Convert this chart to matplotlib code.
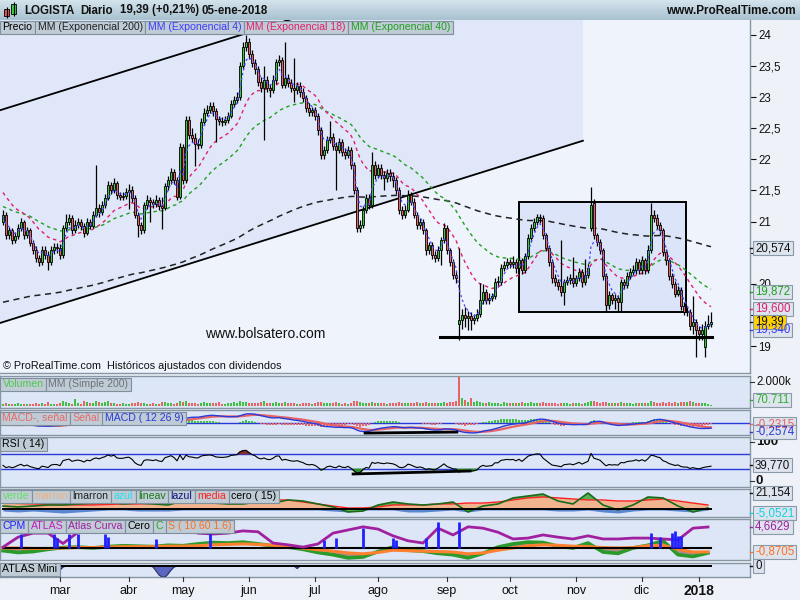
import numpy as np
import pandas as pd
import matplotlib
matplotlib.use('Agg')
import matplotlib.pyplot as plt
from matplotlib.patches import Rectangle, Polygon
from matplotlib.colors import LinearSegmentedColormap

plt.rcParams['font.family'] = ['Liberation Sans', 'DejaVu Sans']

# ---------------- data ----------------
holidays = ['2017-04-14', '2017-04-17', '2017-05-01', '2017-12-25', '2017-12-26', '2018-01-01']
dates = pd.bdate_range('2017-02-01', '2018-01-05')
dates = dates[~dates.isin(pd.to_datetime(holidays))]

opens = [21.00, 21.11, 20.78, 20.86, 20.70, 20.77, 20.90, 20.99, 20.78, 20.86,
         20.66, 20.54, 20.41, 20.35, 20.54, 20.46, 20.35, 20.54, 20.59, 20.58,
         20.46, 20.90, 20.99, 21.06, 20.86, 20.94, 20.99, 20.93, 20.82, 20.99,
         20.93, 21.11, 21.22, 21.15, 21.27, 21.38, 21.59, 21.51, 21.62, 21.43,
         21.40, 21.41, 21.48, 21.51, 21.38, 21.11, 20.94, 20.86, 21.27, 21.35,
         21.32, 21.28, 21.35, 21.25, 21.22, 21.57, 21.67, 21.80, 21.67, 21.40,
         22.20, 21.67, 22.63, 22.39, 22.35, 22.25, 22.23, 22.60, 22.75, 22.80,
         22.86, 22.78, 22.65, 22.62, 22.60, 22.64, 22.70, 22.89, 22.95, 23.00,
         23.50, 23.80, 23.88, 23.70, 23.55, 23.45, 23.25, 23.15, 23.28, 23.15,
         23.12, 23.28, 23.57, 23.60, 23.20, 23.31, 23.23, 23.15, 23.12, 23.18,
         23.08, 22.99, 22.83, 22.76, 22.79, 22.70, 22.47, 22.07, 22.15, 22.31,
         22.36, 22.22, 22.15, 22.28, 22.12, 22.07, 22.15, 21.91, 21.51, 20.90,
         20.94, 21.19, 21.38, 21.27, 21.91, 21.75, 21.86, 21.75, 21.70, 21.78,
         21.73, 21.67, 21.51, 21.19, 21.11, 21.19, 21.43, 21.32, 21.11, 20.94,
         20.99, 20.86, 20.54, 20.62, 20.46, 20.41, 20.54, 20.70, 20.90, 20.54,
         20.35, 20.14, 19.35, 19.42, 19.50, 19.45, 19.48, 19.42, 19.45, 19.51,
         19.74, 19.87, 19.74, 19.77, 19.80, 20.03, 20.03, 20.25, 20.30, 20.35,
         20.32, 20.35, 20.25, 20.38, 20.22, 20.45, 20.74, 20.90, 20.99, 21.07,
         21.06, 20.78, 20.58, 20.35, 20.09, 20.03, 19.96, 19.87, 20.03, 20.06,
         20.09, 20.01, 20.09, 20.19, 20.03, 20.14, 20.90, 21.30, 20.78, 20.67,
         20.54, 20.13, 19.66, 19.82, 19.74, 19.77, 19.71, 20.03, 19.98, 20.13,
         20.19, 20.22, 20.35, 20.22, 20.38, 20.22, 20.54, 21.11, 21.06, 20.94,
         20.86, 20.51, 20.38, 20.13, 20.00, 19.84, 19.90, 19.64, 19.55, 19.55,
         19.32, 19.39, 19.26, 19.19, 18.99, 19.32, 19.35]

highs = [21.18, 21.15, 20.92, 20.90, 20.84, 20.96, 21.05, 21.03, 20.92, 20.90,
         20.71, 20.60, 20.47, 20.60, 20.60, 20.52, 20.60, 20.66, 20.65, 20.64,
         20.95, 21.12, 21.12, 21.10, 21.02, 21.05, 21.04, 20.98, 21.06, 21.04,
         21.17, 21.91, 21.28, 21.33, 21.45, 21.66, 21.64, 21.70, 21.66, 21.48,
         21.47, 21.54, 21.60, 21.58, 21.42, 21.15, 21.00, 21.32, 21.42, 21.40,
         21.37, 21.42, 21.40, 21.40, 21.62, 21.74, 21.86, 21.84, 21.72, 22.26,
         22.25, 22.70, 22.70, 22.50, 22.42, 22.32, 22.66, 22.82, 22.88, 22.93,
         22.92, 22.83, 22.70, 22.68, 22.70, 22.77, 22.95, 23.02, 23.08, 23.56,
         23.88, 24.00, 23.95, 23.76, 23.62, 23.50, 23.32, 23.50, 23.34, 23.22,
         23.35, 23.62, 23.68, 23.65, 23.89, 23.38, 23.30, 23.63, 23.25, 23.24,
         23.14, 23.04, 22.90, 22.85, 22.85, 22.75, 22.52, 22.22, 22.38, 22.62,
         22.42, 22.28, 22.34, 22.32, 22.18, 22.21, 22.20, 21.96, 21.56, 21.02,
         21.25, 21.44, 21.44, 22.12, 21.97, 21.93, 21.92, 21.82, 21.85, 21.84,
         21.80, 21.72, 21.56, 21.25, 21.26, 21.50, 21.48, 21.38, 21.16, 21.06,
         21.04, 20.90, 20.68, 20.67, 20.52, 20.60, 20.76, 20.98, 20.94, 20.58,
         20.40, 20.20, 20.57, 19.60, 19.62, 19.56, 19.55, 19.52, 19.60, 20.01,
         20.00, 19.92, 19.85, 19.86, 20.10, 20.12, 20.32, 20.36, 20.42, 20.40,
         20.45, 20.40, 20.44, 20.42, 20.50, 20.80, 20.96, 21.05, 21.12, 21.12,
         21.10, 20.82, 20.62, 20.40, 20.15, 20.08, 20.70, 20.08, 20.12, 20.15,
         20.43, 20.14, 20.26, 20.24, 20.40, 20.32, 21.56, 21.36, 20.82, 20.72,
         20.58, 20.18, 19.88, 19.86, 19.84, 19.82, 20.08, 20.08, 20.19, 20.25,
         20.30, 20.42, 20.40, 20.45, 20.42, 20.62, 21.30, 21.18, 21.12, 21.00,
         20.90, 20.56, 20.42, 20.18, 20.05, 19.96, 19.95, 19.70, 19.62, 19.60,
         19.80, 19.44, 19.32, 19.35, 19.40, 19.50, 19.55]

lows = [20.95, 20.72, 20.72, 20.64, 20.65, 20.72, 20.85, 20.72, 20.73, 20.60,
        20.48, 20.35, 20.29, 20.31, 20.40, 20.22, 20.30, 20.48, 20.50, 20.40,
        20.42, 20.85, 20.94, 20.80, 20.82, 20.90, 20.86, 20.76, 20.79, 20.88,
        20.90, 21.07, 21.08, 21.10, 21.22, 21.34, 21.44, 21.46, 21.37, 21.34,
        21.35, 21.36, 21.20, 21.32, 21.05, 20.75, 20.80, 20.82, 21.20, 21.00,
        21.22, 21.24, 21.18, 20.88, 21.18, 21.50, 21.60, 21.60, 21.34, 21.36,
        21.60, 21.62, 22.33, 22.28, 21.90, 22.16, 22.18, 22.55, 22.70, 22.74,
        22.70, 22.28, 22.55, 22.54, 22.55, 22.58, 22.66, 22.84, 22.90, 22.95,
        23.45, 23.74, 23.62, 23.48, 23.38, 23.18, 23.08, 22.31, 23.08, 23.00,
        23.06, 23.22, 23.50, 23.14, 23.15, 23.16, 23.08, 22.92, 23.05, 23.00,
        22.92, 22.76, 22.70, 22.70, 22.64, 22.40, 22.00, 22.00, 22.10, 22.26,
        22.15, 21.51, 22.10, 22.05, 22.00, 22.02, 21.85, 21.45, 20.84, 20.84,
        20.90, 21.14, 21.20, 21.22, 21.68, 21.70, 21.68, 21.50, 21.64, 21.66,
        21.55, 21.44, 21.12, 21.04, 21.05, 21.15, 21.26, 21.05, 20.88, 20.88,
        20.80, 20.47, 20.48, 20.40, 20.35, 20.36, 20.30, 20.66, 20.48, 20.28,
        20.08, 20.02, 19.10, 19.28, 19.30, 19.25, 19.26, 19.35, 19.40, 19.46,
        19.68, 19.68, 19.68, 19.72, 19.76, 19.96, 19.98, 20.20, 20.26, 20.25,
        20.26, 20.18, 20.20, 20.15, 20.18, 20.40, 20.68, 20.85, 20.94, 20.98,
        20.72, 20.52, 20.28, 20.02, 19.96, 19.90, 19.80, 19.66, 19.98, 20.00,
        19.95, 19.96, 20.04, 19.95, 19.98, 20.10, 20.85, 20.72, 20.60, 20.48,
        20.06, 19.55, 19.60, 19.68, 19.60, 19.55, 19.55, 19.92, 19.94, 20.08,
        20.14, 20.16, 20.15, 20.16, 20.15, 20.18, 20.50, 21.00, 20.88, 20.78,
        20.45, 20.30, 20.06, 19.94, 19.78, 19.80, 19.58, 19.50, 19.48, 19.26,
        19.20, 18.82, 19.10, 19.10, 18.82, 19.28, 19.30]

closes = [21.11, 20.78, 20.86, 20.70, 20.77, 20.90, 20.99, 20.78, 20.86, 20.66,
          20.54, 20.41, 20.35, 20.54, 20.46, 20.35, 20.54, 20.59, 20.58, 20.46,
          20.90, 20.99, 21.06, 20.86, 20.94, 20.99, 20.93, 20.82, 20.99, 20.93,
          21.11, 21.22, 21.15, 21.27, 21.38, 21.59, 21.51, 21.62, 21.43, 21.40,
          21.41, 21.48, 21.51, 21.38, 21.11, 20.94, 20.86, 21.27, 21.35, 21.32,
          21.28, 21.35, 21.25, 21.22, 21.57, 21.67, 21.80, 21.67, 21.40, 22.20,
          21.67, 22.63, 22.39, 22.35, 22.25, 22.23, 22.60, 22.75, 22.80, 22.86,
          22.78, 22.65, 22.62, 22.60, 22.64, 22.70, 22.89, 22.95, 23.00, 23.50,
          23.80, 23.88, 23.70, 23.55, 23.45, 23.25, 23.15, 23.28, 23.15, 23.12,
          23.28, 23.57, 23.60, 23.20, 23.31, 23.23, 23.15, 23.12, 23.18, 23.08,
          22.99, 22.83, 22.76, 22.79, 22.70, 22.47, 22.07, 22.15, 22.31, 22.36,
          22.22, 22.15, 22.28, 22.12, 22.07, 22.15, 21.91, 21.51, 20.90, 20.94,
          21.19, 21.38, 21.27, 21.91, 21.75, 21.86, 21.75, 21.70, 21.78, 21.73,
          21.67, 21.51, 21.19, 21.11, 21.19, 21.43, 21.32, 21.11, 20.94, 20.99,
          20.86, 20.54, 20.62, 20.46, 20.41, 20.54, 20.70, 20.90, 20.54, 20.35,
          20.14, 20.09, 19.42, 19.50, 19.45, 19.48, 19.42, 19.45, 19.51, 19.74,
          19.87, 19.74, 19.77, 19.80, 20.03, 20.03, 20.25, 20.30, 20.35, 20.32,
          20.35, 20.25, 20.38, 20.22, 20.45, 20.74, 20.90, 20.99, 21.07, 21.06,
          20.78, 20.58, 20.35, 20.09, 20.03, 19.96, 19.87, 20.03, 20.06, 20.09,
          20.01, 20.09, 20.19, 20.03, 20.14, 20.25, 21.27, 20.78, 20.67, 20.54,
          20.13, 19.66, 19.82, 19.74, 19.77, 19.71, 20.03, 19.98, 20.13, 20.19,
          20.22, 20.35, 20.22, 20.38, 20.22, 20.54, 21.11, 21.06, 20.94, 20.86,
          20.51, 20.38, 20.13, 20.00, 19.84, 19.90, 19.64, 19.55, 19.55, 19.32,
          19.39, 19.26, 19.19, 19.26, 19.32, 19.35, 19.39]

# volume in thousands of shares
volumes = [180, 220, 150, 200, 160, 250, 180, 150, 200, 170, 160, 220, 190, 250, 180, 300, 200, 160, 150, 210,
           420, 300, 250, 180, 620, 280, 200, 450, 320, 260, 220, 400, 350, 280, 300, 420, 260, 240, 200, 180,
           220, 200, 180, 250, 280, 300, 220, 260, 200, 180, 240, 200, 180, 350, 300, 260, 220, 200, 230, 380,
           300, 420, 280, 250, 220, 200, 280, 300, 240, 260, 220, 250, 300, 200, 180, 220, 280, 320, 260, 400,
           350, 300, 280, 260, 240, 220, 300, 380, 260, 220, 250, 300, 280, 260, 320, 240, 220, 260, 200, 180,
           220, 240, 260, 200, 220, 300, 350, 280, 240, 260, 220, 300, 240, 200, 220, 200, 280, 400, 450, 300,
           280, 260, 240, 350, 280, 240, 260, 220, 200, 240, 220, 260, 300, 240, 220, 260, 220, 280, 300, 260,
           240, 300, 260, 220, 250, 280, 260, 300, 280, 320,
           350, 400, 2400, 700, 500, 320, 650, 300, 420, 300,
           280, 250, 300, 220, 280, 260, 200, 300, 240, 220,
           260, 240, 280, 300, 250, 280, 320, 260, 240, 220,
           300, 280, 260, 240, 220, 200, 250, 280, 220, 200,
           240, 220, 260, 200, 220, 300, 450, 380, 300, 260,
           350, 320, 280, 240, 260, 220, 300, 250, 240, 220,
           200, 240, 220, 260, 240, 280, 400, 300, 260, 280,
           300, 280, 320, 260, 300, 280, 350, 320, 300, 380,
           300, 280, 250, 220, 240, 200, 70.7]

# moving-average periods and their starting values at the left edge
ema_periods = [200, 40, 18, 4]
ema_start = [19.69, 21.25, 21.51, 21.05]
ema_last_labels = [20.574, 19.872, 19.600, 19.340]

# custom "cero (15)" indicator, one value every 5 sessions
weekly_step = 5
verde = [3.5, 2.4, 3.5, 4.7, 4.7, 5.9, 7.0, 8.2, 5.9, 7.0,
         5.9, 4.7, 9.4, 8.2, 7.0, 5.9, 5.9, 8.2, 7.0, 10.6,
         9.4, 5.9, 2.4, -3.5, -2.4, 4.7, 8.2, 5.9, 4.7, 5.9,
         8.2, -3.5, 3.5, 5.9, 13.0, 15.3, 17.6, 9.4, 5.9, 18.8,
         4.7, -1.2, 4.7, 14.1, 13.0, 3.5, -3.5, 1.2]
media = [7.0, 6.5, 5.9, 5.3, 4.7, 4.7, 4.7, 5.3, 5.9, 5.9,
         6.5, 7.0, 8.2, 9.4, 9.4, 10.0, 10.6, 10.6, 10.6, 10.6,
         8.2, 5.9, 3.5, 1.2, 1.2, 2.4, 4.7, 4.7, 4.7, 5.9,
         5.9, 7.0, 7.0, 8.2, 10.6, 13.0, 14.1, 13.0, 11.8, 10.6,
         10.6, 9.4, 9.4, 10.6, 11.8, 9.4, 7.0, 4.7]
azul = [-2.4, -3.5, -2.4, -3.5, -4.7, -3.5, -2.4, -1.2, -1.2, -2.4,
        -2.4, -2.4, -1.2, -1.2, -1.2, -1.2, -1.2, -1.2, -1.2, -1.2,
        -1.2, -1.2, -2.4, -3.5, -1.2, -1.2, -1.2, -3.5, -3.5, -2.4,
        -1.2, -3.5, -1.2, -1.2, -1.2, -1.2, -1.2, -2.4, -2.4, -1.2,
        -3.5, -4.7, -2.4, -1.2, -1.2, -2.4, -3.5, -1.2]

# CPM / ATLAS indicator
atlas_curva = [0.2, 2.4, 3.3, 3.3, 1.0, 3.5, 4.0, 4.2, 4.0, 4.2,
               3.8, 4.0, 4.2, 3.3, 3.1, 3.3, 3.8, 3.6, 1.1, 0.7,
               0.2, 0.9, 3.3, 4.0, 4.7, 4.2, 2.7, 1.6, 1.1, 4.4,
               2.9, 4.7, 4.4, 3.5, 2.0, 2.2, 2.9, 2.4, 2.0, 2.7,
               2.0, 2.0, 2.2, 2.2, 2.0, 1.8, 4.4, 4.66]
c_line = [-0.6, -1.0, -0.8, -0.3, 0.1, 0.2, 0.0, 0.3, 0.5, 0.4,
          0.3, 0.6, 0.5, 0.9, 1.2, 1.1, 1.3, 0.9, 0.5, 0.2,
          -0.3, -1.0, -1.5, -2.2, -2.0, -0.8, 0.2, -0.5, -0.7, -1.2,
          -1.5, -2.2, -1.2, 0.2, 0.9, 1.3, 1.2, 0.4, 0.0, 1.1,
          -0.9, -1.2, 0.0, 0.6, 1.6, -1.5, -1.9, -1.1]
s_line = [0.0, 0.0, -0.1, -0.1, 0.0, 0.1, 0.1, 0.2, 0.3, 0.3,
          0.3, 0.4, 0.4, 0.5, 0.7, 0.8, 0.9, 0.8, 0.6, 0.3,
          0.0, -0.4, -0.7, -1.1, -1.3, -1.0, -0.5, -0.6, -0.7, -0.8,
          -0.9, -1.3, -1.1, -0.5, 0.0, 0.5, 0.7, 0.6, 0.4, 0.3,
          0.1, 0.0, 0.1, 0.5, 0.6, -0.3, -0.9, -0.87]
cpm_days = [6, 17, 18, 22, 25, 34, 35, 51, 69, 107, 111, 120, 130, 131,
            141, 145, 152, 216, 219, 223, 224, 225, 226]
cpm_vals = [3.1, 3.1, 2.2, 3.1, 3.1, 3.1, 2.4, 2.0, 3.3, 1.8, 2.2, 4.4, 2.2, 1.8,
            2.2, 5.8, 5.8, 3.3, 2.4, 3.3, 3.8, 2.7, 2.7]

# ATLAS Mini: sessions where it dips below zero
mini_days = [19, 20, 50, 51, 52, 53, 54, 55, 56, 57, 98]
mini_vals = [-4, -1, -1, -5, -9, -11, -11, -8, -4, -1, -2.5]

month_names = ['mar', 'abr', 'may', 'jun', 'jul', 'ago', 'sep', 'oct', 'nov', 'dic', '2018']

# ---------------- indicators ----------------
n = min(len(dates), len(closes), len(opens), len(highs), len(lows), len(volumes))
o = np.array(opens[:n]); h = np.array(highs[:n]); l = np.array(lows[:n]); c = np.array(closes[:n])
vol = np.array(volumes[:n])
x = np.arange(n)


def ema(values, span, seed):
    a = 2.0 / (span + 1)
    e = seed
    out = []
    for v in values:
        e = e + a * (v - e)
        out.append(e)
    return np.array(out)


def wilder_rsi(values, period, g0, l0):
    g, lo = g0, l0
    out = []
    for k, v in enumerate(values):
        if k:
            d = v - values[k - 1]
            g = (g * (period - 1) + max(d, 0)) / period
            lo = (lo * (period - 1) + max(-d, 0)) / period
        out.append(100 - 100 / (1 + g / lo))
    return np.array(out)


emas = {p: ema(c, p, s) for p, s in zip(ema_periods, ema_start)}
macd = ema(c, 12, 20.95) - ema(c, 26, 21.08)
signal = ema(macd, 9, -0.10)
hist = macd - signal
rsi = wilder_rsi(c, 14, 0.06, 0.09)

# ---------------- figure helpers ----------------
W, H = 800, 600
fig = plt.figure(figsize=(8, 6), dpi=100, facecolor='#eef2f8')
renderer = fig.canvas.get_renderer()
LBL_FS = 7.6


def px_axes(x0, y0, x1, y1, fc):
    a = fig.add_axes([x0 / W, 1 - y1 / H, (x1 - x0) / W, (y1 - y0) / H])
    a.set_facecolor(fc)
    a.set_xlim(-1, 249)
    a.set_xticks([]); a.set_yticks([])
    for s in a.spines.values():
        s.set_color('#8796a4'); s.set_linewidth(1)
    return a


def box_text(xp, yc, txt, color, fs=LBL_FS, fc='#bfcbd5', ec='#7f8f9d', hgt=13, padx=2.5, weight='normal', z=30):
    t = fig.text((xp + padx) / W, 1 - yc / H, txt, color=color, fontsize=fs, fontweight=weight,
                 ha='left', va='center', zorder=z + 1)
    ext = t.get_window_extent(renderer)
    w = ext.x1 - xp + padx
    fig.add_artist(Rectangle((xp / W, 1 - (yc + hgt / 2) / H), w / W, hgt / H, transform=fig.transFigure,
                             fc=fc, ec=ec, lw=0.8, zorder=z))
    return xp + w


def label_row(xp, yc, items, fs=LBL_FS):
    for txt, col in items:
        xp = box_text(xp, yc, txt, col, fs=fs)


def ypx(a, val):
    return H - a.transData.transform((0, val))[1]


def right_box(a, val, txt, color, fc='#dde4ee', z=40, dy=0):
    yc = ypx(a, val) + dy
    fig.add_artist(plt.Line2D([750 / W, 753 / W], [1 - yc / H] * 2, transform=fig.transFigure,
                              color=color, lw=1, zorder=z))
    box_text(753, yc, txt, color, fs=8.3, fc=fc, ec='#8a9aa8', hgt=14, padx=2, z=z)


def right_plain(a, val, txt, bold=False, fs=8.3):
    yc = ypx(a, val)
    fig.add_artist(plt.Line2D([750 / W, 754 / W], [1 - yc / H] * 2, transform=fig.transFigure,
                              color='#333333', lw=0.8, zorder=20))
    fig.text(756 / W, 1 - yc / H, txt, fontsize=fs, fontweight='bold' if bold else 'normal',
             ha='left', va='center', color='#111111', zorder=20)


# ---------------- header ----------------
hx = fig.add_axes([0, 1 - 20 / H, 1, 20 / H])
hx.imshow(np.linspace(0, 1, 20)[:, None], aspect='auto', extent=(0, 800, 20, 0),
          cmap=LinearSegmentedColormap.from_list('hdr', ['#d3e3ec', '#a9c2d0']))
hx.set_xlim(0, 800); hx.set_ylim(20, 0); hx.axis('off')
hx.vlines([6.5, 13.5], [7, 2], [18, 16], color='black', lw=0.8)
hx.add_patch(Rectangle((4, 9), 5, 7, fc='#e85050', ec='black', lw=0.6))
hx.add_patch(Rectangle((11, 4), 5, 10, fc='#40c840', ec='black', lw=0.6))
for xp, txt in [(24, 'LOGISTA'), (80, 'Diario'), (120, '19,39 (+0,21%)'), (202, '05-ene-2018')]:
    hx.text(xp, 10.5, txt, fontsize=8.3, fontweight='bold', va='center', color='#111111')
hx.text(796, 10.5, 'www.ProRealTime.com', fontsize=8.5, fontweight='bold', va='center', ha='right', color='#111111')

# ---------------- main price panel ----------------
ax = px_axes(0, 20, 750, 373, '#eef3fc')
ax.set_ylim(18.566, 24.241)
top = 24.241

# channel drawing (two parallel lines, shaded between the top and the lower line)
ch_x = [-1, 193.3]
ch_low = [19.37, 22.30]
ch_up_start = 22.79
slope = (ch_low[1] - ch_low[0]) / (ch_x[1] - ch_x[0])
ax.add_patch(Polygon([(ch_x[0], top), (ch_x[1], top), (ch_x[1], ch_low[1]), (ch_x[0], ch_low[0])],
                     closed=True, fc='#dfe7f8', ec='none', zorder=0))
ax.plot(ch_x, ch_low, color='black', lw=1.3, zorder=2)
ax.plot([ch_x[0], 120], [ch_up_start, ch_up_start + slope * 121], color='black', lw=1.3, zorder=2)

# range box and support line
ax.add_patch(Rectangle((172, 19.55), 55.7, 21.32 - 19.55, fc='#dbe4f8', ec='black', lw=1.4, zorder=1))
ax.plot([145.7, 236.3], [19.145, 19.145], color='black', lw=2.2, zorder=6)

ax.plot(x, emas[200], color='#222222', lw=1.1, ls=(0, (4, 3)), zorder=3)
ax.plot(x, emas[40], color='#20a020', lw=1.0, ls=(0, (2.5, 2.5)), zorder=3)
ax.plot(x, emas[18], color='#e0206e', lw=1.0, ls=(0, (2.5, 2.5)), zorder=3)

up = c >= o
ax.vlines(x, l, h, color='black', lw=0.9, zorder=4)
ax.bar(x, np.maximum(np.abs(c - o), 0.012), bottom=np.minimum(o, c), width=0.72,
       color=np.where(up, '#3cc83c', '#e86464'), edgecolor='black', linewidth=0.6, zorder=5)
ax.plot(x, emas[4], color='#4a4aff', lw=0.9, ls=(0, (2, 2)), zorder=6)

ax.spines['left'].set_visible(False); ax.spines['top'].set_visible(False)
ax.yaxis.tick_right()
yt = np.arange(19, 24.01, 0.5)
ax.set_yticks(yt)
ax.set_yticklabels([('%g' % v).replace('.', ',') if v not in (19.5, 20.5) else '' for v in yt])
ax.tick_params(axis='y', direction='out', length=4, width=0.8, labelsize=8.3, pad=2, colors='#111111')

fig.text(205 / W, 1 - 334 / H, 'www.bolsatero.com', fontsize=10, va='center', color='#111111')
fig.text(3 / W, 1 - 366 / H, '\u00a9 ProRealTime.com  Históricos ajustados con dividendos', fontsize=7.8,
         va='center', color='#111111')

label_row(0, 27, [('Precio', '#000000'), ('MM (Exponencial 200)', '#222222'), ('MM (Exponencial 4)', '#3c3cff'),
                  ('MM (Exponencial 18)', '#e0206e'), ('MM (Exponencial 40)', '#20a020')])

for val, txt, col in zip(ema_last_labels, ['20,574', '19,872', '19,600', '19,340'],
                         ['#111111', '#20a020', '#e0206e', '#3c3cff']):
    right_box(ax, val, txt, col, dy=5 if txt == '19,340' else 0)
right_box(ax, c[-1], '19,39', '#111111', fc='#ffd200')

# ---------------- volume ----------------
av = px_axes(0, 376, 750, 408, '#dde6f6')
av.set_ylim(-167, 2500)
prev = np.concatenate([[o[0]], c[:-1]])
av.bar(x, vol, width=0.55, color=np.where(c >= prev, '#40c040', '#e86464'), zorder=3)
label_row(0, 384, [('Volumen', '#4cc84c'), ('MM (Simple 200)', '#6a737c')])
right_plain(av, 2000, '2.000k')
right_box(av, 500, '70.711', '#30b030')

# ---------------- MACD ----------------
am = px_axes(0, 410, 750, 435, '#dde6f6')
am.set_ylim(-0.62, 0.66)
am.axhline(0, color='#2a3ad8', lw=1, zorder=2)
am.bar(x, hist * 1.5, width=0.5, color=np.where(hist >= 0, '#40c040', '#e86464'), zorder=3)
am.plot(x, signal, color='#e86464', lw=1.6, zorder=4)
am.plot(x, macd, color='#2a3ad8', lw=1.0, zorder=5)
am.plot([120.7, 151.3], [-0.52, -0.47], color='black', lw=2, zorder=6)
label_row(0, 418, [('MACD-, señal', '#e86a6a'), ('Señal', '#e86a6a'), ('MACD ( 12 26 9)', '#2a3ad8')])
right_box(am, signal[-1], ('%.4f' % signal[-1]).replace('.', ','), '#e86464', dy=-3)
right_box(am, -0.2574, '-0,2574', '#2a3ad8', dy=4)

# ---------------- RSI ----------------
ar = px_axes(0, 437, 750, 487, '#dde6f6')
ar.set_ylim(-15.4, 112.8)
ar.axhline(70, color='#2a3ad8', lw=1); ar.axhline(30, color='#2a3ad8', lw=1)
ar.fill_between(x, 70, rsi, where=rsi > 70, color='#803030', interpolate=True, zorder=3)
ar.fill_between(x, 30, rsi, where=rsi < 30, color='#309030', interpolate=True, zorder=3)
ar.plot(x, rsi, color='black', lw=0.8, zorder=4)
ar.plot([116.7, 155.7], [18, 25.6], color='black', lw=2, zorder=5)
label_row(0, 444, [('RSI ( 14)', '#000000')])
right_plain(ar, 100, '100', bold=True, fs=9.5)
right_plain(ar, 0, '0', bold=True, fs=9.5)
right_box(ar, 39.77, '39,770', '#111111')

# ---------------- verde / marron indicator ----------------
ac = px_axes(0, 489, 750, 517, '#dde6f6')
ac.set_ylim(-9.4, 23.5)
xw = np.arange(len(verde)) * weekly_step
vd = np.array(verde); md = np.array(media); az = np.array(azul)
ac.fill_between(xw, 0, np.clip(md, 0, None), color='#f2b48e', lw=0, zorder=2)
ac.fill_between(xw, md, vd, where=vd > md, color='#58b058', interpolate=True, lw=0, zorder=3)
ac.fill_between(xw, 0, vd, where=vd < 0, color='#58b058', interpolate=True, lw=0, zorder=3)
ac.fill_between(xw, 0, az, color='#5a86d0', lw=0, zorder=2)
ac.plot(xw, md, color='#ff2020', lw=1.0, zorder=4)
ac.plot(xw, vd, color='#1a6a1a', lw=1.2, zorder=5)
ac.plot([0, n - 1], [0, 0], color='black', lw=1.4, zorder=6)
label_row(0, 496, [('verde', '#66e066'), ('marron', '#f4b080'), ('lmarron', '#202020'), ('azul', '#20e0f0'),
                   ('lineav', '#1a7a1a'), ('lazul', '#101080'), ('media', '#ff2020'), ('cero ( 15)', '#000000')])
right_box(ac, 21.154, '21,154', '#111111', dy=2)
right_box(ac, -5.0521, '-5,0521', '#10d0e0')

# ---------------- CPM / ATLAS ----------------
ap = px_axes(0, 519, 750, 560, '#dde6f6')
ap.set_ylim(-2.67, 6.44)
cl = np.array(c_line); sl = np.array(s_line)
ap.fill_between(xw, cl, sl, color='#a88a8a', lw=0, zorder=2)
ap.plot(xw, cl, color='#2a9a2a', lw=2.6, zorder=3)
ap.plot(xw, sl, color='#ff8030', lw=2.2, zorder=4)
ap.plot([0, n - 1], [0, 0], color='black', lw=1.5, zorder=5)
ap.plot(xw, atlas_curva, color='#a020a0', lw=2.0, zorder=6)
ap.vlines(cpm_days, 0, cpm_vals, color='#2020ff', lw=2, zorder=7)
label_row(0, 526, [('CPM', '#2020ff'), ('ATLAS', '#c020c0'), ('Atlas Curva', '#a020a0'), ('Cero', '#000000'),
                   ('C', '#20b020'), ('S ( 10 60 1.6)', '#ff7020')])
right_box(ap, 4.6629, '4,6629', '#a020a0')
right_box(ap, -0.8705, '-0,8705', '#ff7020')

# ---------------- ATLAS Mini ----------------
an = px_axes(0, 563, 750, 577, '#dde6f6')
an.set_ylim(-11, 3)
mini = np.zeros(n)
mini[mini_days] = mini_vals
an.fill_between(x, 0, mini, color='#5a66c0', lw=0, zorder=2)
an.plot(x, mini, color='#303060', lw=0.8, zorder=3)
an.plot([0, n - 1], [0, 0], color='black', lw=1.4, zorder=4)
label_row(0, 569, [('ATLAS Mini', '#000000')])
right_box(an, 0, '0', '#111111')

# ---------------- month axis ----------------
s = pd.Series(x, index=dates[:n])
firsts = s.groupby([s.index.year, s.index.month]).first().values[1:]
for i, name in zip(firsts, month_names):
    xp = an.transData.transform((i, 0))[0] - 3
    fig.add_artist(plt.Line2D([xp / W] * 2, [1 - 577 / H, 1 - 581 / H], transform=fig.transFigure,
                              color='#333333', lw=0.8))
    fig.text(xp / W, 1 - 591 / H, name, ha='center', va='center', color='#111111',
             fontsize=10 if name == '2018' else 9, fontweight='bold' if name == '2018' else 'normal')

fig.savefig('out.png', dpi=100, facecolor=fig.get_facecolor())
